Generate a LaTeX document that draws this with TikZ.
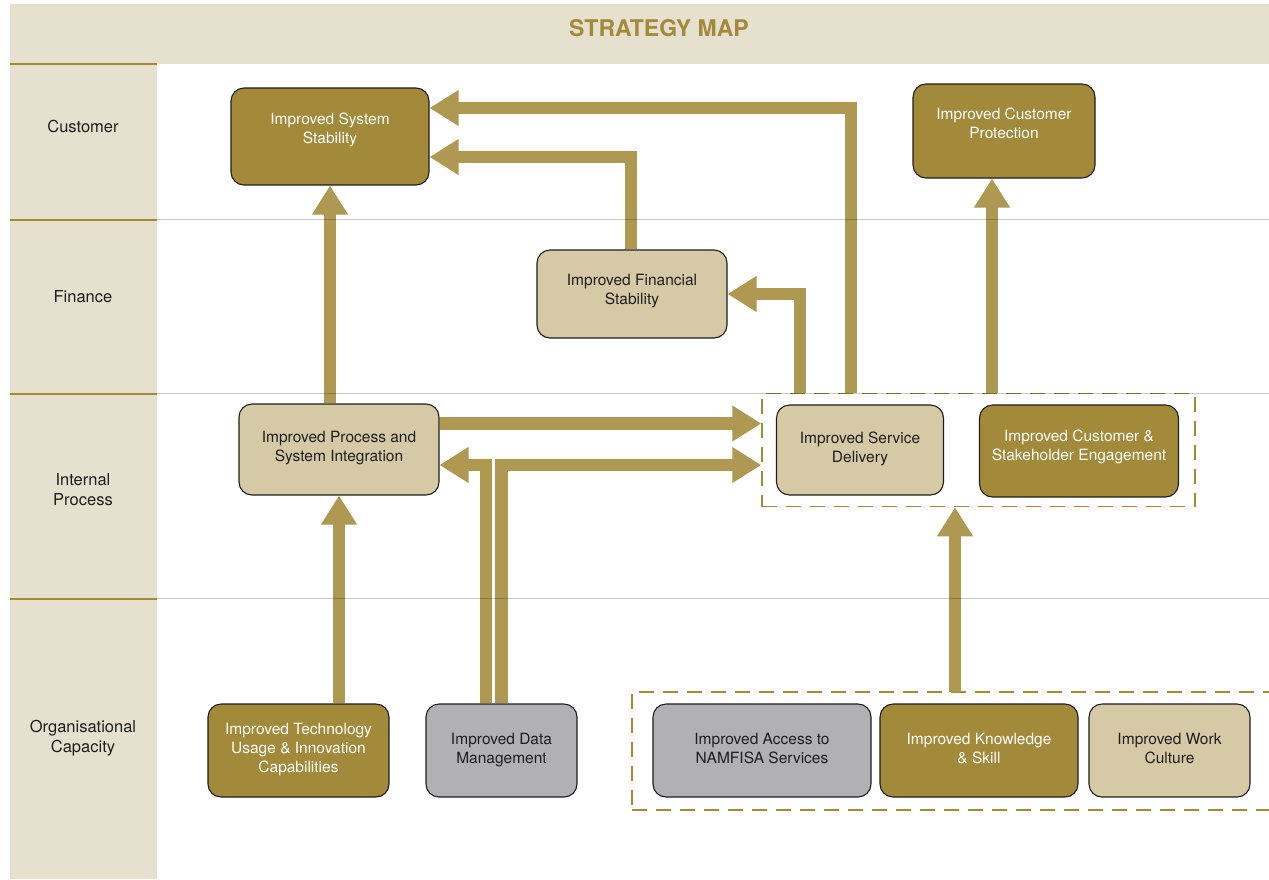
\documentclass[tikz,border=0pt]{standalone}
\usepackage{fontspec}
\setmainfont{TeX Gyre Heros}
\usetikzlibrary{arrows.meta}

\definecolor{bandbg}{HTML}{E6E1CF}
\definecolor{gold}{HTML}{A38A3A}
\definecolor{goldline}{HTML}{A58A35}
\definecolor{arrowgold}{HTML}{AE9852}
\definecolor{sand}{HTML}{D6C9A5}
\definecolor{slate}{HTML}{B1B0B4}
\definecolor{ink}{HTML}{1E1E1E}

\begin{document}
\begin{tikzpicture}[x=1pt,y=-1pt,
  card/.style={draw=ink, line width=1.1pt, rounded corners=13pt, inner sep=0pt},
  darkcard/.style={card, fill=gold},
  sandcard/.style={card, fill=sand},
  slatecard/.style={card, fill=slate},
  cardtext/.style={align=center, font=\fontsize{15.5}{19}\selectfont, inner sep=0pt},
  lighttext/.style={cardtext, text=white},
  darktext/.style={cardtext, text=ink},
  flow/.style={draw=arrowgold, line width=12.5pt, line join=miter,
    -{Triangle[width=34pt,length=29pt]}},
  rowrule/.style={draw=black, draw opacity=0.22, line width=1.4pt},
  bandrule/.style={draw=goldline, line width=2pt},
  groupbox/.style={draw=goldline, line width=1.5pt, dash pattern=on 15pt off 9pt,
    inner sep=0pt},
  rowlabel/.style={align=center, font=\fontsize{16.5}{20}\selectfont, text=ink, inner sep=0pt}
]
\clip (0,0) rectangle (1269,879);
\fill[white] (0,0) rectangle (1269,879);

% header strip and perspective column
\fill[bandbg] (10,4) rectangle (1269,64);
\fill[bandbg] (10,64) rectangle (157,879);
\node[font=\fontsize{23}{27}\selectfont\bfseries, text=gold, inner sep=0pt] (title) at (659,28) {STRATEGY MAP};

% perspective labels
\node[rowlabel] (lblcust) at (83,126) {Customer};
\node[rowlabel] (lblfin) at (83,297) {Finance};
\node[rowlabel] (lblint) at (83,490) {Internal\\Process};
\node[rowlabel] (lblorg) at (83,738) {Organisational\\Capacity};

% dashed groupings
\node[groupbox, minimum width=433pt, minimum height=113pt] (svcgroup) at (978.5,450) {};
\node[groupbox, minimum width=660pt, minimum height=118pt] (knowgroup) at (962,751) {};

% objective cards
\node[darkcard, minimum width=198pt, minimum height=97pt] (sys) at (330,136.5) {};
\node[lighttext] (systxt) at (330,130) {Improved System\\Stability};

\node[darkcard, minimum width=182pt, minimum height=94pt] (prot) at (1004,131) {};
\node[lighttext] (prottxt) at (1004,123.5) {Improved Customer\\Protection};

\node[sandcard, minimum width=190pt, minimum height=88pt] (fin) at (632,294) {};
\node[darktext] (fintxt) at (632,291) {Improved Financial\\Stability};

\node[sandcard, minimum width=200pt, minimum height=91pt] (proc) at (339,449.5) {};
\node[darktext] (proctxt) at (339,448) {Improved Process and\\System Integration};

\node[sandcard, minimum width=167pt, minimum height=90pt] (serv) at (860,450) {};
\node[darktext] (servtxt) at (860,448.5) {Improved Service\\Delivery};

\node[darkcard, minimum width=199pt, minimum height=92pt] (eng) at (1079,451) {};
\node[lighttext] (engtxt) at (1079,446.5) {Improved Customer \&\\Stakeholder Engagement};

\node[darkcard, minimum width=181pt, minimum height=93pt] (tech) at (298.5,750.5) {};
\node[lighttext] (techtxt) at (298.5,749.5) {Improved Technology\\Usage \& Innovation\\Capabilities};

\node[slatecard, minimum width=151pt, minimum height=93pt] (data) at (501.5,750.5) {};
\node[darktext] (datatxt) at (501.5,750) {Improved Data\\Management};

\node[slatecard, minimum width=218pt, minimum height=93pt] (acc) at (762,750.5) {};
\node[darktext] (acctxt) at (762,748.5) {Improved Access to\\NAMFISA Services};

\node[darkcard, minimum width=198pt, minimum height=93pt] (know) at (979,750.5) {};
\node[lighttext] (knowtxt) at (979,749) {Improved Knowledge\\\& Skill};

\node[sandcard, minimum width=161pt, minimum height=93pt] (cult) at (1169.5,750.5) {};
\node[darktext] (culttxt) at (1169.5,748.5) {Improved Work\\Culture};

% cause-and-effect links
\coordinate (skillsrc) at (955,692);
\draw[flow] (proc.north -| sys.south) -- (sys.south);
\draw[flow] ([xshift=-9pt]serv.north |- svcgroup.north) |- ([yshift=28.5pt]sys.east);
\draw[flow] ([xshift=-1pt]fin.north) |- ([yshift=-20.5pt]sys.east);
\draw[flow] ([xshift=-60pt]serv.north |- svcgroup.north) |- (fin.east);
\draw[flow] ([xshift=-12pt]prot.south |- svcgroup.north) -- ([xshift=-12pt]prot.south);
\draw[flow] ([yshift=26pt]proc.east) -- ([yshift=26pt]proc.east -| svcgroup.west);
\draw[flow] ([xshift=-15.5pt]data.north) |- ([yshift=-15.5pt]proc.east);
\draw[flow] (data.north) |- ([yshift=-15.5pt]proc.east -| svcgroup.west);
\draw[flow] (tech.north -| proc.south) -- (proc.south);
\draw[flow] (skillsrc) -- (skillsrc |- svcgroup.south);

% perspective dividers
\draw[bandrule] (10,64) -- (157,64);
\draw[bandrule] (10,219.5) -- (157,219.5);
\draw[bandrule] (10,393.5) -- (157,393.5);
\draw[bandrule] (10,598.5) -- (157,598.5);
\draw[rowrule] (157,219.5) -- (1269,219.5);
\draw[rowrule] (157,393.5) -- (1269,393.5);
\draw[rowrule] (157,598.5) -- (1269,598.5);
\end{tikzpicture}
\end{document}
